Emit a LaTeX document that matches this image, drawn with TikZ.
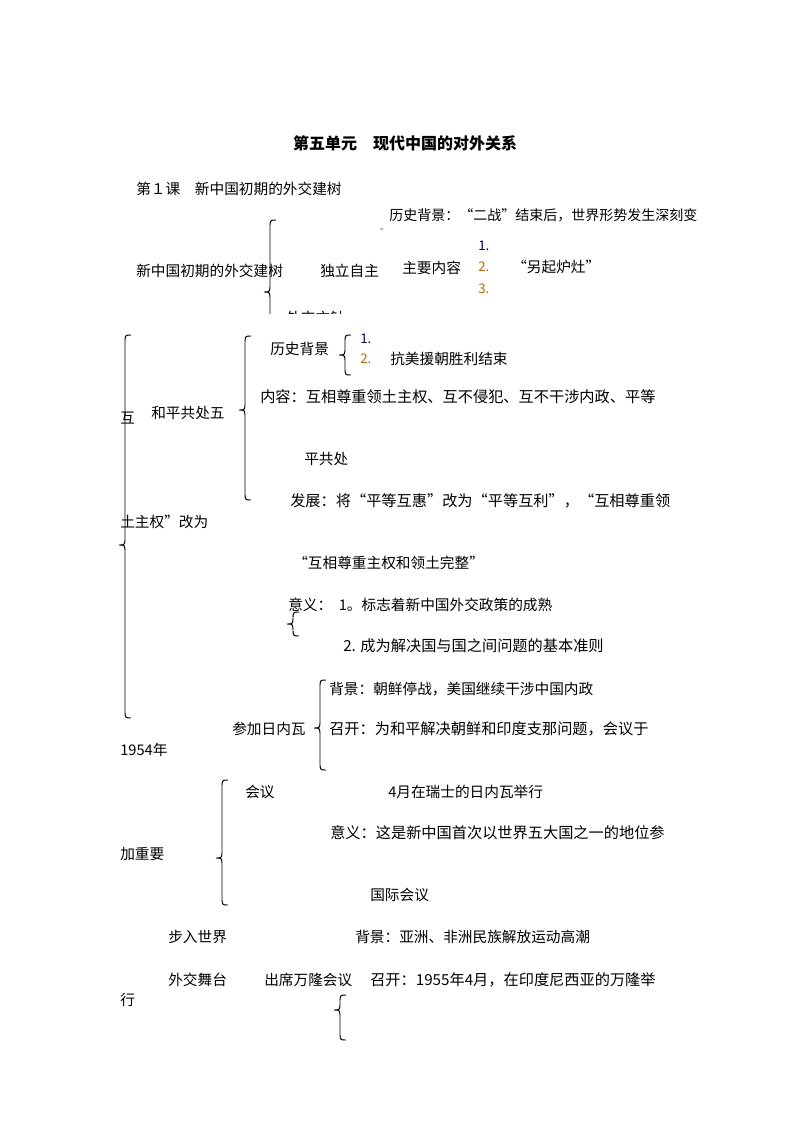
\documentclass[tikz,border=0pt]{standalone}
\usepackage{fontspec}
\setmainfont{Noto Sans CJK SC}
\usetikzlibrary{positioning}
\newcommand{\sbrace}[4]{% x, top, point, bottom
  \draw[line width=0.7pt] (#1+6,#2) .. controls (#1,#2) .. (#1,#2+8) -- (#1,#3-8) .. controls (#1,#3) .. (#1-6,#3)
    .. controls (#1,#3) .. (#1,#3+8) -- (#1,#4-8) .. controls (#1,#4) .. (#1+6,#4);}
\begin{document}
\begin{tikzpicture}[x=0.75pt,y=-0.75pt,
    txt/.style={anchor=west,inner sep=0pt,font=\fontsize{11}{13}\selectfont},
    num/.style={txt,font=\fontsize{10}{12}\selectfont}
    ]
    \useasboundingbox[fill=white] (0,0) rectangle (793,1122);
    \node[font=\fontsize{12}{14}\selectfont\bfseries] (title) at (405,143) {第五单元\quad 现代中国的对外关系};
    \node[txt] (lesson) at (136,189) {第１课\quad 新中国初期的外交建树};
    % top part, cut off below
    \begin{scope}
    \clip (0,180) rectangle (793,313);
    \node[txt,font=\fontsize{10.5}{13}\selectfont] (bg1) at (389,215) {历史背景：“二战”结束后，世界形势发生深刻变};
    \node[txt,font=\tiny] (q1) at (380,232) {”};
    \node[num,text=blue!50!black] (n1) at (478,246) {1.};
    \node[txt] (build) at (136,271) {新中国初期的外交建树};
    \node[txt] (indep) at (320,271) {独立自主};
    \node[txt] (main) at (402,268) {主要内容};
    \node[num,text=orange!80!black] (n2) at (478,267) {2.};
    \node[txt] (lqzz) at (512,267) {“另起炉灶”};
    \node[num,text=orange!80!black] (n3) at (478,289) {3.};
    \node[txt] (fz) at (286,318) {外交方针};
    \sbrace{270}{220}{292}{330}
    \end{scope}
    % peaceful coexistence
    \sbrace{125}{335}{545}{718}
    \sbrace{245}{336}{410}{500}
    \sbrace{345}{335}{355}{375}
    \node[txt] (bg2) at (270,349) {历史背景};
    \node[num,text=blue!50!black] (m1) at (360,339) {1.};
    \node[num,text=orange!80!black] (m2) at (360,359) {2.};
    \node[txt] (kmyc) at (390,359) {抗美援朝胜利结束};
    \node[txt] (hu) at (120,418) {互};
    \node[txt] (hpgc) at (151,413) {和平共处五};
    \node[txt,font=\fontsize{11.4}{13}\selectfont] (nr) at (260,397) {内容：互相尊重领土主权、互不侵犯、互不干涉内政、平等};
    \node[txt] (pgc) at (304,459) {平共处};
    \node[txt,font=\fontsize{11.4}{13}\selectfont] (fz2) at (290,501) {发展：将“平等互惠”改为“平等互利”，“互相尊重领};
    \node[txt] (tzq) at (120,522) {土主权”改为};
    \node[txt] (wz) at (293,563) {“互相尊重主权和领土完整”};
    \node[txt] (yy1) at (288,605) {意义：\ \ 1。标志着新中国外交政策的成熟};
    \sbrace{293}{612}{624}{636}
    \node[txt,font=\fontsize{11.4}{13}\selectfont] (yy2) at (343,646) {2. 成为解决国与国之间问题的基本准则};
    % Geneva
    \sbrace{320}{680}{728}{770}
    \node[txt] (bg3) at (329,689) {背景：朝鲜停战，美国继续干涉中国内政};
    \node[txt] (rnw) at (232,729) {参加日内瓦};
    \node[txt,font=\fontsize{11.4}{13}\selectfont] (zk1) at (329,729) {召开：为和平解决朝鲜和印度支那问题，会议于};
    \node[txt] (y54) at (120,750) {1954年};
    \sbrace{222}{780}{858}{905}
    \node[txt] (hy) at (245,792) {会议};
    \node[txt] (rs) at (388,792) {4月在瑞士的日内瓦举行};
    \node[txt,font=\fontsize{11.4}{13}\selectfont] (yy3) at (330,833) {意义：这是新中国首次以世界五大国之一的地位参};
    \node[txt] (jzy) at (120,854) {加重要};
    \node[txt] (gjhy) at (370,895) {国际会议};
    % Bandung
    \node[txt] (brsj) at (168,937) {步入世界};
    \node[txt] (bg4) at (355,937) {背景：亚洲、非洲民族解放运动高潮};
    \node[txt] (wjwt) at (168,980) {外交舞台};
    \node[txt] (wl) at (264,980) {出席万隆会议};
    \node[txt,font=\fontsize{11.4}{13}\selectfont] (zk2) at (370,980) {召开：1955年4月，在印度尼西亚的万隆举};
    \node[txt] (xing) at (120,1000) {行};
    \sbrace{340}{995}{1010}{1040}
\end{tikzpicture}
\end{document}
